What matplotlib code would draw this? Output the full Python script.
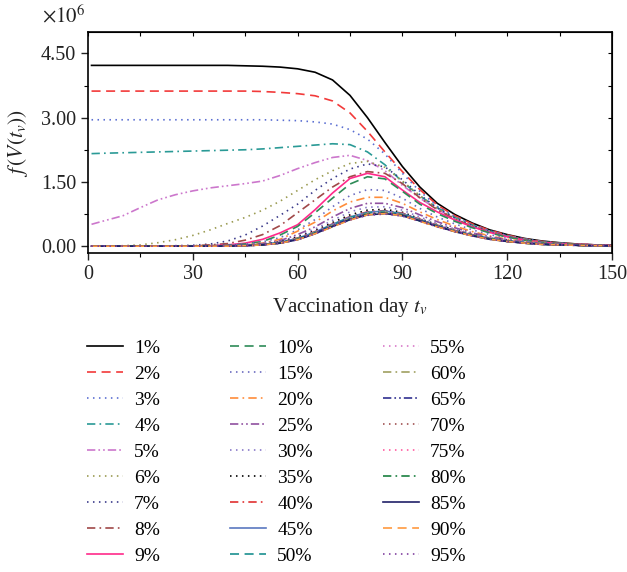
import matplotlib
matplotlib.use('Agg')
import matplotlib.pyplot as plt
from matplotlib.ticker import MultipleLocator

plt.rcParams['font.family'] = ['Liberation Serif', 'DejaVu Serif']
plt.rcParams['mathtext.fontset'] = 'stix'
plt.rcParams['lines.scale_dashes'] = False

# vaccination day
days = [1, 5, 10, 15, 20, 25, 30, 35, 40, 45, 50, 55, 60, 65, 70, 75,
        80, 85, 90, 95, 100, 105, 110, 115, 120, 125, 130, 135, 140, 145, 150]

# f(V(t_v)) in units of 1e6, one list per vaccination coverage
v01 = [4.22, 4.22, 4.22, 4.22, 4.22, 4.22, 4.22, 4.22, 4.22, 4.21, 4.20, 4.18, 4.14, 4.06, 3.88, 3.52,
       3.00, 2.42, 1.86, 1.38, 1.00, 0.74, 0.54, 0.38, 0.27, 0.18, 0.12, 0.08, 0.05, 0.03, 0.02]
v02 = [3.62, 3.62, 3.62, 3.62, 3.62, 3.62, 3.62, 3.62, 3.62, 3.62, 3.61, 3.59, 3.56, 3.51, 3.39, 3.11,
       2.68, 2.20, 1.74, 1.32, 0.96, 0.71, 0.52, 0.37, 0.26, 0.17, 0.11, 0.07, 0.05, 0.03, 0.02]
v03 = [2.95, 2.95, 2.95, 2.95, 2.95, 2.95, 2.95, 2.95, 2.95, 2.95, 2.95, 2.94, 2.93, 2.90, 2.85, 2.72,
       2.50, 2.15, 1.70, 1.28, 0.93, 0.69, 0.50, 0.36, 0.25, 0.17, 0.11, 0.07, 0.04, 0.03, 0.02]
v04 = [2.16, 2.17, 2.18, 2.19, 2.20, 2.21, 2.22, 2.23, 2.24, 2.25, 2.27, 2.30, 2.33, 2.36, 2.39, 2.37,
       2.20, 1.90, 1.50, 1.17, 0.90, 0.67, 0.49, 0.35, 0.24, 0.16, 0.10, 0.07, 0.04, 0.03, 0.02]
v05 = [0.51, 0.60, 0.71, 0.90, 1.08, 1.20, 1.29, 1.36, 1.41, 1.46, 1.52, 1.65, 1.81, 1.95, 2.07, 2.12,
       2.00, 1.76, 1.42, 1.12, 0.86, 0.64, 0.47, 0.34, 0.23, 0.15, 0.10, 0.06, 0.04, 0.03, 0.02]
v06 = [0.00, 0.00, 0.01, 0.03, 0.08, 0.15, 0.25, 0.38, 0.53, 0.67, 0.84, 1.05, 1.30, 1.55, 1.76, 1.93,
       1.98, 1.84, 1.52, 1.18, 0.88, 0.65, 0.47, 0.33, 0.23, 0.15, 0.10, 0.06, 0.04, 0.03, 0.02]
v07 = [0.00, 0.00, 0.00, 0.00, 0.00, 0.01, 0.02, 0.05, 0.12, 0.26, 0.47, 0.72, 0.98, 1.30, 1.58, 1.80,
       1.92, 1.85, 1.55, 1.20, 0.89, 0.66, 0.48, 0.34, 0.23, 0.15, 0.10, 0.06, 0.04, 0.03, 0.02]
v08 = [0.00, 0.00, 0.00, 0.00, 0.00, 0.00, 0.01, 0.03, 0.06, 0.14, 0.27, 0.48, 0.78, 1.08, 1.38, 1.62,
       1.74, 1.70, 1.46, 1.13, 0.85, 0.63, 0.46, 0.33, 0.22, 0.15, 0.09, 0.06, 0.04, 0.03, 0.02]
v09 = [0.00, 0.00, 0.00, 0.00, 0.00, 0.00, 0.00, 0.01, 0.03, 0.07, 0.16, 0.31, 0.50, 0.85, 1.24, 1.58,
       1.70, 1.62, 1.31, 1.02, 0.80, 0.61, 0.45, 0.32, 0.22, 0.14, 0.09, 0.06, 0.04, 0.03, 0.02]
v10 = [0.00, 0.00, 0.00, 0.00, 0.00, 0.00, 0.00, 0.01, 0.02, 0.05, 0.11, 0.26, 0.46, 0.78, 1.12, 1.45,
       1.62, 1.57, 1.28, 0.98, 0.76, 0.58, 0.43, 0.31, 0.21, 0.14, 0.09, 0.06, 0.04, 0.02, 0.01]
v15 = [0.00, 0.00, 0.00, 0.00, 0.00, 0.00, 0.00, 0.01, 0.02, 0.05, 0.10, 0.20, 0.38, 0.62, 0.92, 1.18,
       1.32, 1.30, 1.12, 0.88, 0.68, 0.52, 0.38, 0.27, 0.18, 0.12, 0.08, 0.05, 0.03, 0.02, 0.01]
v20 = [0.00, 0.00, 0.00, 0.00, 0.00, 0.00, 0.00, 0.00, 0.01, 0.03, 0.07, 0.16, 0.35, 0.56, 0.82, 1.03,
       1.14, 1.14, 1.00, 0.80, 0.62, 0.47, 0.34, 0.24, 0.16, 0.11, 0.07, 0.04, 0.03, 0.02, 0.01]
v25 = [0.00, 0.00, 0.00, 0.00, 0.00, 0.00, 0.00, 0.00, 0.01, 0.03, 0.06, 0.13, 0.27, 0.45, 0.68, 0.88,
       1.00, 1.00, 0.90, 0.73, 0.57, 0.43, 0.31, 0.22, 0.15, 0.10, 0.06, 0.04, 0.03, 0.02, 0.01]
v30 = [0.00, 0.00, 0.00, 0.00, 0.00, 0.00, 0.00, 0.01, 0.01, 0.02, 0.05, 0.11, 0.23, 0.40, 0.60, 0.80,
       0.91, 0.92, 0.84, 0.68, 0.53, 0.40, 0.29, 0.20, 0.14, 0.09, 0.06, 0.04, 0.02, 0.01, 0.01]
v35 = [0.00, 0.00, 0.00, 0.00, 0.00, 0.00, 0.00, 0.01, 0.01, 0.02, 0.04, 0.10, 0.21, 0.36, 0.55, 0.73,
       0.84, 0.86, 0.79, 0.64, 0.50, 0.38, 0.27, 0.19, 0.13, 0.08, 0.05, 0.03, 0.02, 0.01, 0.01]
v40 = [0.00, 0.00, 0.00, 0.00, 0.00, 0.00, 0.00, 0.00, 0.01, 0.02, 0.04, 0.09, 0.19, 0.34, 0.52, 0.69,
       0.80, 0.83, 0.77, 0.63, 0.49, 0.37, 0.27, 0.18, 0.12, 0.08, 0.05, 0.03, 0.02, 0.01, 0.01]
v45 = [0.00, 0.00, 0.00, 0.00, 0.00, 0.00, 0.00, 0.00, 0.01, 0.02, 0.04, 0.09, 0.18, 0.33, 0.51, 0.68,
       0.79, 0.82, 0.76, 0.62, 0.48, 0.36, 0.26, 0.18, 0.12, 0.08, 0.05, 0.03, 0.02, 0.01, 0.01]
v50 = [0.00, 0.00, 0.00, 0.00, 0.00, 0.00, 0.00, 0.00, 0.01, 0.02, 0.04, 0.08, 0.18, 0.32, 0.50, 0.67,
       0.78, 0.81, 0.75, 0.61, 0.48, 0.36, 0.26, 0.18, 0.12, 0.08, 0.05, 0.03, 0.02, 0.01, 0.01]
v55 = [0.00, 0.00, 0.00, 0.00, 0.00, 0.00, 0.00, 0.00, 0.00, 0.01, 0.03, 0.08, 0.17, 0.32, 0.49, 0.66,
       0.77, 0.80, 0.74, 0.61, 0.47, 0.36, 0.26, 0.17, 0.12, 0.08, 0.05, 0.03, 0.02, 0.01, 0.01]
v60 = [0.00, 0.00, 0.00, 0.00, 0.00, 0.00, 0.00, 0.00, 0.00, 0.01, 0.03, 0.08, 0.17, 0.31, 0.48, 0.65,
       0.76, 0.79, 0.74, 0.60, 0.47, 0.35, 0.25, 0.17, 0.11, 0.07, 0.05, 0.03, 0.02, 0.01, 0.01]
v65 = [0.00, 0.00, 0.00, 0.00, 0.00, 0.00, 0.00, 0.00, 0.00, 0.01, 0.03, 0.08, 0.16, 0.31, 0.48, 0.64,
       0.75, 0.78, 0.73, 0.60, 0.47, 0.35, 0.25, 0.17, 0.11, 0.07, 0.05, 0.03, 0.02, 0.01, 0.01]
v70 = [0.00, 0.00, 0.00, 0.00, 0.00, 0.00, 0.00, 0.00, 0.00, 0.01, 0.03, 0.07, 0.16, 0.30, 0.47, 0.63,
       0.75, 0.78, 0.73, 0.60, 0.46, 0.35, 0.25, 0.17, 0.11, 0.07, 0.05, 0.03, 0.02, 0.01, 0.01]
v75 = [0.00, 0.00, 0.00, 0.00, 0.00, 0.00, 0.00, 0.00, 0.00, 0.01, 0.03, 0.07, 0.16, 0.30, 0.47, 0.63,
       0.74, 0.77, 0.72, 0.59, 0.46, 0.35, 0.25, 0.17, 0.11, 0.07, 0.05, 0.03, 0.02, 0.01, 0.01]
v80 = [0.00, 0.00, 0.00, 0.00, 0.00, 0.00, 0.00, 0.00, 0.00, 0.01, 0.03, 0.07, 0.16, 0.30, 0.46, 0.62,
       0.74, 0.77, 0.72, 0.59, 0.46, 0.34, 0.25, 0.17, 0.11, 0.07, 0.04, 0.03, 0.02, 0.01, 0.01]
v85 = [0.00, 0.00, 0.00, 0.00, 0.00, 0.00, 0.00, 0.00, 0.00, 0.01, 0.03, 0.07, 0.15, 0.29, 0.46, 0.62,
       0.73, 0.76, 0.71, 0.59, 0.46, 0.34, 0.24, 0.16, 0.11, 0.07, 0.04, 0.03, 0.02, 0.01, 0.01]
v90 = [0.00, 0.00, 0.00, 0.00, 0.00, 0.00, 0.00, 0.00, 0.00, 0.01, 0.03, 0.07, 0.15, 0.29, 0.45, 0.61,
       0.73, 0.76, 0.71, 0.58, 0.45, 0.34, 0.24, 0.16, 0.11, 0.07, 0.04, 0.03, 0.02, 0.01, 0.01]
v95 = [0.00, 0.00, 0.00, 0.00, 0.00, 0.00, 0.00, 0.00, 0.00, 0.01, 0.03, 0.07, 0.15, 0.29, 0.45, 0.61,
       0.72, 0.75, 0.70, 0.58, 0.45, 0.34, 0.24, 0.16, 0.11, 0.07, 0.04, 0.03, 0.02, 0.01, 0.01]

labels = ['1%', '2%', '3%', '4%', '5%', '6%', '7%', '8%', '9%',
          '10%', '15%', '20%', '25%', '30%', '35%', '40%', '45%', '50%',
          '55%', '60%', '65%', '70%', '75%', '80%', '85%', '90%', '95%']
series = [v01, v02, v03, v04, v05, v06, v07, v08, v09,
          v10, v15, v20, v25, v30, v35, v40, v45, v50,
          v55, v60, v65, v70, v75, v80, v85, v90, v95]

colors = ['#000000', '#f23a3a', '#5a6ed2', '#2a9a96', '#cc77cc', '#9a9a50', '#3a3a8a', '#a04848', '#ff2a8a',
          '#2e8b57', '#6a6abf', '#ff8c3a', '#9050a0', '#8878c8', '#000000', '#e03030', '#5a78c0', '#1a9090',
          '#d878c8', '#a0a060', '#303090', '#a05050', '#ff5aa0', '#1a8040', '#202068', '#ff9a40', '#8040a0']

solid = (None, None)
dash = (0, (6.5, 4))
dot = (0, (1.1, 3.2))
dashdot = (0, (6, 3, 1.2, 3))
dashdotdot = (0, (6, 2.2, 1.2, 2.2, 1.2, 2.2))
styles = [solid, dash, dot, dashdot, dashdotdot, dot, dot, dashdot, solid,
          dash, dot, dashdot, dashdotdot, dot, dot, dashdot, solid, dash,
          dot, dashdot, dashdotdot, dot, dot, dashdot, solid, dash, dot]

fig = plt.figure(figsize=(6.27, 5.72), dpi=100)
ax = fig.add_axes([0.1404, 0.5577, 0.8356, 0.3864])

for y, lab, c, ls in zip(series, labels, colors, styles):
    if ls == solid:
        ax.plot(days, y, color=c, lw=1.2, label=lab)
    else:
        ax.plot(days, y, color=c, lw=1.2, linestyle=ls, label=lab)

ax.set_xlim(0, 150)
ax.set_ylim(-0.16, 5.0)
ax.xaxis.set_major_locator(MultipleLocator(30))
ax.xaxis.set_minor_locator(MultipleLocator(15))
ax.set_yticks([0, 1.5, 3.0, 4.5])
ax.set_yticklabels(['0.00', '1.50', '3.00', '4.50'])
ax.yaxis.set_minor_locator(MultipleLocator(0.75))
ax.tick_params(which='major', direction='out', length=5, width=1.0, labelsize=14.5, colors='#222222')
ax.tick_params(which='minor', direction='out', length=3, width=0.8)
for s in ax.spines.values():
    s.set_linewidth(1.2)

# inward ticks on the top and right frame
top = ax.secondary_xaxis('top')
top.xaxis.set_major_locator(MultipleLocator(15))
top.tick_params(direction='in', length=3, width=0.8, labeltop=False)
right = ax.secondary_yaxis('right')
right.yaxis.set_major_locator(MultipleLocator(0.75))
right.tick_params(direction='in', length=3, width=0.8, labelright=False)

ax.set_xlabel('Vaccination day $t_v$', fontsize=15, labelpad=9, color='#222222')
ax.set_ylabel('$f\\,(V(t_v))$', fontsize=15.5, labelpad=8, color='#222222')
ax.text(-0.005, 1.02, '$\\times 10^6$', transform=ax.transAxes, ha='right', va='bottom',
        fontsize=15, color='#222222')

fig.legend(loc='upper left', bbox_to_anchor=(0.139, 0.407), ncol=3, frameon=False,
           fontsize=14, handlelength=1.85, handletextpad=0.57, columnspacing=3.6,
           labelspacing=0.43, borderpad=0, borderaxespad=0)

fig.savefig('out.png', dpi=100)
